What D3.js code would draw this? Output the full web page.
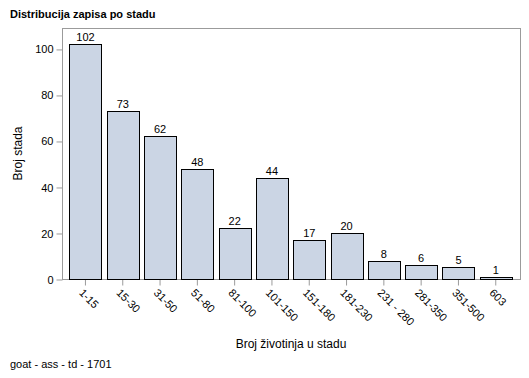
<!DOCTYPE html>
<html>
<head>
<meta charset="utf-8">
<script src="https://cdn.jsdelivr.net/npm/d3@7"></script>
<style>
  body { margin: 0; background: #fff; }
  svg { display: block; font-family: "Liberation Sans", Arial, sans-serif; }
  .tick-label { font-size: 11px; fill: #000; }
</style>
</head>
<body>
<div id="chart"></div>
<script>
// Chart data
const categories = ['1-15', '15-30', '31-50', '51-80', '81-100', '101-150', '151-180', '181-230', '231 - 280', '281-350', '351-500', '603'];
const counts = [102, 73, 62, 48, 22, 44, 17, 20, 8, 6, 5, 1];
const yTicks = [0, 20, 40, 60, 80, 100];

const W = 529, H = 378;
const frame = { left: 62, right: 520, top: 28, bottom: 279 };

const svg = d3.select('#chart').append('svg')
  .attr('width', W)
  .attr('height', H);

// Title
svg.append('text')
  .attr('x', 10)
  .attr('y', 18)
  .style('font-size', '11px')
  .style('font-weight', 'bold')
  .text('Distribucija zapisa po stadu');

// Scales
const x = d3.scaleBand()
  .domain(categories)
  .range([66.8, 514.4])
  .paddingInner(0.14)
  .paddingOuter(0.07);

const y = d3.scaleLinear()
  .domain([0, 109.1])
  .range([frame.bottom, frame.top]);

// Frame
svg.append('rect')
  .attr('x', frame.left + 0.5)
  .attr('y', frame.top + 0.5)
  .attr('width', frame.right - frame.left)
  .attr('height', frame.bottom - frame.top)
  .attr('fill', 'none')
  .attr('stroke', '#9b9b9b');

// Y axis
const yAxis = svg.append('g')
  .attr('transform', `translate(${frame.left + 0.5},0.5)`)
  .call(d3.axisLeft(y).tickValues(yTicks).tickSize(6).tickPadding(3));
yAxis.select('.domain').remove();
yAxis.selectAll('line').attr('stroke', '#9b9b9b');
yAxis.selectAll('text').attr('class', 'tick-label').style('font-family', null).style('font-size', '11px');

// X axis
const xAxis = svg.append('g')
  .attr('transform', `translate(0,${frame.bottom + 0.5})`)
  .call(d3.axisBottom(x).tickSize(6).tickPadding(3));
xAxis.select('.domain').remove();
xAxis.selectAll('line').attr('stroke', '#9b9b9b');
xAxis.selectAll('text')
  .attr('class', 'tick-label')
  .style('font-family', null)
  .style('font-size', '11px')
  .attr('text-anchor', 'start')
  .attr('dy', null)
  .attr('y', 0)
  .attr('transform', 'translate(-7,14) rotate(45)');

// Bars
svg.selectAll('.bar')
  .data(counts)
  .enter()
  .append('rect')
  .attr('class', 'bar')
  .attr('x', (d, i) => Math.round(x(categories[i])) + 0.5)
  .attr('y', d => Math.round(y(d)) + 0.5)
  .attr('width', Math.round(x.bandwidth()))
  .attr('height', d => frame.bottom - Math.round(y(d)))
  .attr('fill', '#cbd5e4')
  .attr('stroke', '#000')
  .attr('stroke-width', 1);

// Value labels
svg.selectAll('.value')
  .data(counts)
  .enter()
  .append('text')
  .attr('class', 'value')
  .attr('x', (d, i) => x(categories[i]) + x.bandwidth() / 2)
  .attr('y', d => y(d) - 3)
  .attr('text-anchor', 'middle')
  .style('font-size', '11px')
  .text(d => d);

// Axis titles
svg.append('text')
  .attr('x', 291)
  .attr('y', 348)
  .attr('text-anchor', 'middle')
  .style('font-size', '12px')
  .text('Broj životinja u stadu');

svg.append('text')
  .attr('transform', `translate(22,${(frame.top + frame.bottom) / 2}) rotate(-90)`)
  .attr('text-anchor', 'middle')
  .style('font-size', '12px')
  .text('Broj stada');

// Footnote
svg.append('text')
  .attr('x', 10)
  .attr('y', 368)
  .style('font-size', '11px')
  .text('goat - ass - td - 1701');
</script>
</body>
</html>
